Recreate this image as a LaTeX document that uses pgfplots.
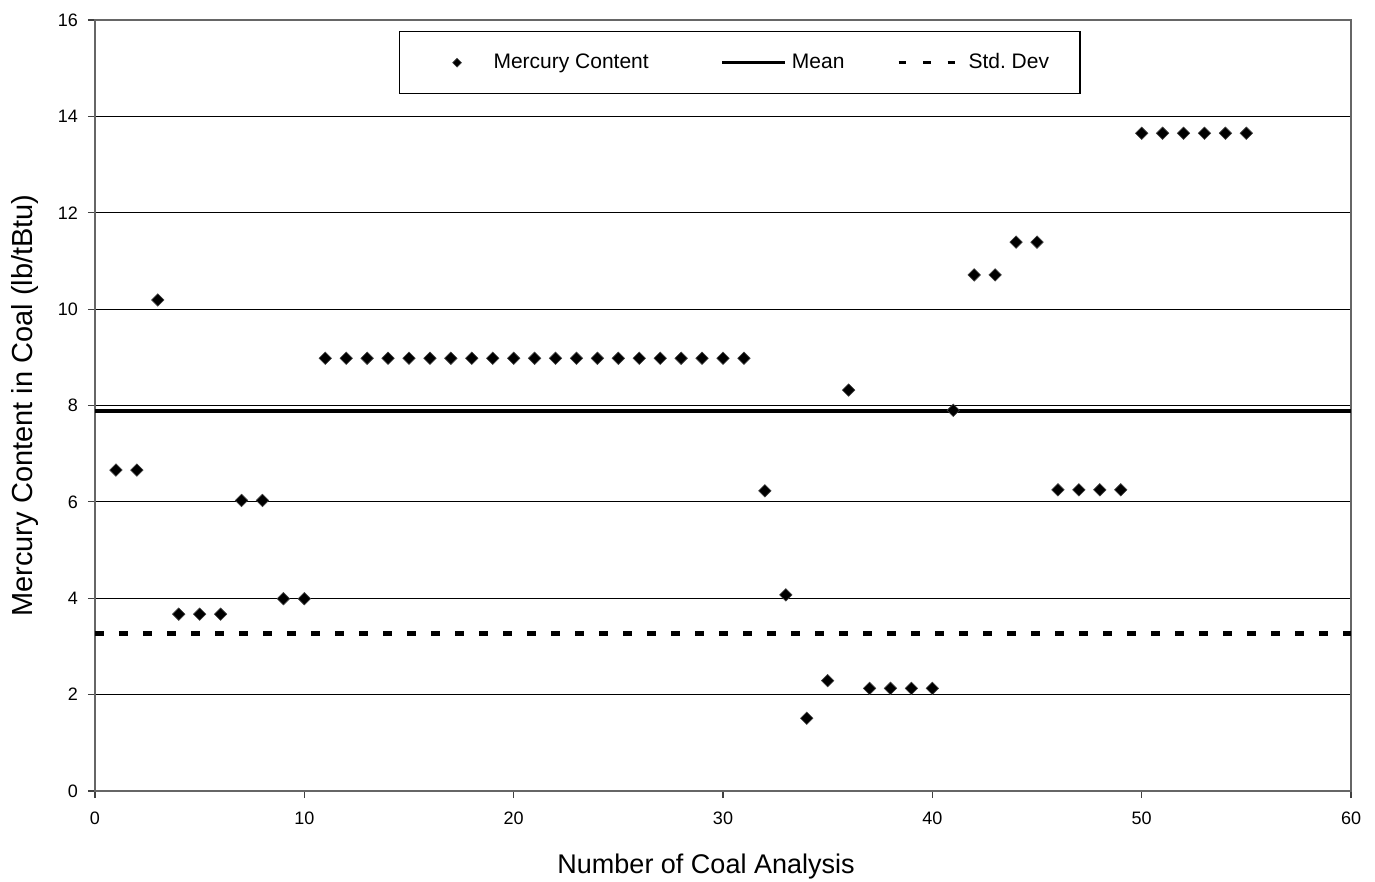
\documentclass[border=0pt]{standalone}
\usepackage{fontspec}
\setmainfont{Liberation Sans}
\usepackage{pgfplots}
\pgfplotsset{compat=1.18}
\pgfplotsset{
  keyline/.style={legend image code/.code={\draw[##1] (0pt,0pt) -- (31.5pt,0pt);}},
  keydash/.style={legend image code/.code={\draw[##1] (1.6pt,0pt) -- (29.85pt,0pt);
      \path[draw=none] (0pt,0pt) -- (34pt,0pt);}},
  keymark/.style={legend image code/.code={\path[draw=none] (0pt,0pt) -- (31.5pt,0pt);
      \path[##1, draw=none, mark size=1.55pt] plot coordinates {(15.75pt,0pt)};}},
}
\begin{document}
\begin{tikzpicture}
\useasboundingbox (-47.5pt,-45.5pt) rectangle (640pt,395.5pt);
\begin{axis}[
  at={(0pt,0pt)}, anchor=south west,
  scale only axis, width=628pt, height=385.5pt,
  xmin=0, xmax=60, ymin=0, ymax=16,
  xtick={0,10,...,60}, ytick={0,2,...,16},
  /pgf/number format/assume math mode=true,
  ticklabel style={font=\fontsize{9}{10}\selectfont},
  xticklabel style={yshift=-3.5pt},
  yticklabel style={xshift=-1.5pt},
  tick align=outside, xtick pos=left, ytick pos=left,
  major tick length=3.5pt,
  tick style={black!75, line width=0.6pt},
  axis line style={black!60, line width=0.6pt},
  ymajorgrids, grid style={black, line width=0.5pt},
  xlabel={Number of Coal Analysis},
  ylabel={Mercury Content in Coal (lb/tBtu)},
  xlabel style={font=\fontsize{13.5}{15}\selectfont, at={(axis description cs:0.4865,0)}, anchor=center, yshift=-38pt},
  ylabel style={font=\fontsize{14.5}{16}\selectfont, at={(axis description cs:-0.0557,0.5)}, anchor=center},
  legend columns=3, legend cell align=left,
  legend style={at={(axis description cs:0.2420,0.9857)}, anchor=north west,
    draw=black, line width=0.6pt, fill=white, inner xsep=13pt, inner ysep=8.5pt,
    font=\fontsize{10.5}{12}\selectfont,
    nodes={inner sep=2.5pt, text depth=0.15em},
    /tikz/column 2/.style={column sep=33.5pt},
    /tikz/column 4/.style={column sep=23pt}},
]
\addplot[black, line width=2.2pt, forget plot] coordinates {(0,7.88) (60,7.88)};
\addplot[black, line width=2.5pt, dash pattern=on 4.5pt off 7.5pt, forget plot] coordinates {(0,3.27) (60,3.27)};
\addplot[only marks, keymark, mark=square*, mark size=2.2pt,
  mark options={rotate=45, fill=black, draw=black!75, line width=0.3pt}]
  coordinates {
  (1,6.66) (2,6.66) (3,10.19) (4,3.67) (5,3.67) (6,3.67) (7,6.03) (8,6.03)
  (9,3.99) (10,3.99)
  (11,8.98) (12,8.98) (13,8.98) (14,8.98) (15,8.98) (16,8.98) (17,8.98)
  (18,8.98) (19,8.98) (20,8.98) (21,8.98) (22,8.98) (23,8.98) (24,8.98)
  (25,8.98) (26,8.98) (27,8.98) (28,8.98) (29,8.98) (30,8.98) (31,8.98)
  (32,6.23) (33,4.07) (34,1.51) (35,2.29) (36,8.32)
  (37,2.13) (38,2.13) (39,2.13) (40,2.13) (41,7.90)
  (42,10.71) (43,10.71) (44,11.39) (45,11.39)
  (46,6.25) (47,6.25) (48,6.25) (49,6.25)
  (50,13.65) (51,13.65) (52,13.65) (53,13.65) (54,13.65) (55,13.65)
  };
\addlegendentry{Mercury Content}
\addlegendimage{keyline, black, line width=1.6pt}
\addlegendentry{Mean}
\addlegendimage{keydash, black, line width=1.6pt, dash pattern=on 3.75pt off 8.5pt}
\addlegendentry{Std.\ Dev}
\end{axis}
\end{tikzpicture}
\end{document}
